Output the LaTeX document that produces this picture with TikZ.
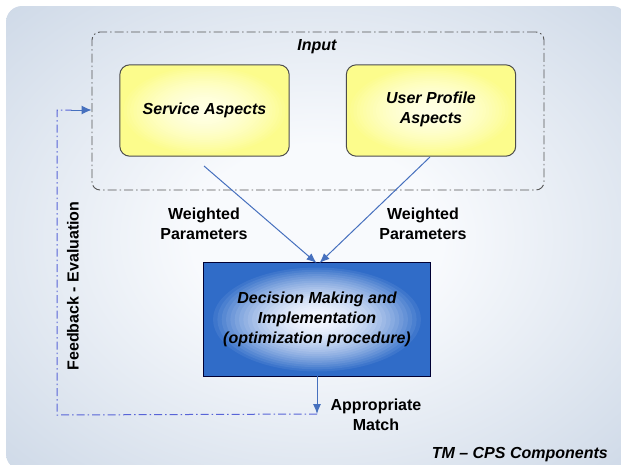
\documentclass[tikz,border=0pt]{standalone}
\usepackage{fontspec}
\setmainfont{Liberation Sans}
\usetikzlibrary{arrows.meta,calc}
\definecolor{bgout}{RGB}{196,209,226}
\definecolor{bgin}{RGB}{248,250,253}
\definecolor{yelout}{RGB}{252,252,140}
\definecolor{yelin}{RGB}{255,255,228}
\definecolor{blueout}{RGB}{48,108,200}
\definecolor{bluein}{RGB}{245,248,255}
\definecolor{arrowblue}{RGB}{70,112,190}
\definecolor{fbblue}{RGB}{88,100,215}
\definecolor{dashgray}{RGB}{85,85,85}
\pgfdeclareradialshading{bgshade}{\pgfpoint{0bp}{0bp}}{color(0bp)=(bgin); color(10bp)=(bgin); color(42bp)=(bgout); color(50bp)=(bgout)}
% #1 centre, #2 half width, #3 half height, #4 outer colour, #5 inner colour, #6 steps reaching full outer
\newcommand{\mygradfill}[6]{%
  \foreach \i in {30,...,1} {%
    \pgfmathsetmacro{\pct}{min(100,100*(\i/#6)^1.8)}%
    \fill[#4!\pct!#5] #1 ellipse [x radius={\i*#2/30*1.15}, y radius={\i*#3/30*1.15}];%
  }%
}
\tikzset{
  lbl/.style={font=\fontsize{16}{20}\selectfont\bfseries, align=center, inner sep=0pt},
  ilbl/.style={font=\fontsize{16}{20}\selectfont\bfseries\itshape, align=center, inner sep=0pt},
  aspect/.style={minimum width=169pt, minimum height=91pt, inner sep=0pt},
  aspectborder/.style={draw=black!70, line width=1pt, rounded corners=10pt},
  decision/.style={minimum width=226pt, minimum height=113pt, inner sep=0pt},
  decborder/.style={draw=black!80!blue, line width=1pt},
  conn/.style={draw=arrowblue, line width=1pt, -{Latex[length=10pt,width=8pt]}},
  fb/.style={draw=fbblue, line width=1pt, dash pattern=on 8pt off 3pt on 1.5pt off 3pt},
  inbox/.style={draw=dashgray, line width=0.9pt, rounded corners=8pt, dash pattern=on 9pt off 3pt on 1.5pt off 3pt}
}
\begin{document}
\begin{tikzpicture}[x=1pt,y=-1pt]
\useasboundingbox (0,0) rectangle (621,464);
\fill[white] (0,0) rectangle (621,464);
\path[shading=bgshade, rounded corners=16pt] (6,6) rectangle (628,470);
\clip (0,0) rectangle (621,464);
% input box
\node[inbox, minimum width=452pt, minimum height=158pt, inner sep=0pt] (input) at (318,111) {};
\node[ilbl] (inputlbl) at (317,47) {Input};
% aspect boxes
\node[aspect] (svc) at (204.5,110.5) {};
\node[aspect] (usr) at (431,110.5) {};
\begin{scope}
  \clip[rounded corners=10pt] (svc.south west) rectangle (svc.north east);
  \fill[yelout] (svc.south west) rectangle (svc.north east);
  \mygradfill{(svc.center)}{84.5}{45.5}{yelout}{yelin}{26}
\end{scope}
\begin{scope}
  \clip[rounded corners=10pt] (usr.south west) rectangle (usr.north east);
  \fill[yelout] (usr.south west) rectangle (usr.north east);
  \mygradfill{(usr.center)}{84.5}{45.5}{yelout}{yelin}{26}
\end{scope}
\draw[aspectborder] (svc.south west) rectangle (svc.north east);
\draw[aspectborder] (usr.south west) rectangle (usr.north east);
\node[ilbl] (svctxt) at (svc) {Service Aspects};
\node[ilbl] (usrtxt) at (431,109) {User Profile\\Aspects};
% decision box
\node[decision] (dec) at (317,319.5) {};
\begin{scope}
  \clip (dec.south west) rectangle (dec.north east);
  \fill[blueout] (dec.south west) rectangle (dec.north east);
  \mygradfill{(dec.center)}{113}{56.5}{blueout}{bluein}{25}
\end{scope}
\draw[decborder] (dec.south west) rectangle (dec.north east);
\node[ilbl] (dectxt) at (317,319) {Decision Making and\\Implementation\\(optimization procedure)};
% arrows
\coordinate (s1) at (204,166);
\coordinate (t1) at (316.5,263);
\coordinate (s2) at (430,157);
\coordinate (t2) at (319.5,263);
\draw[conn] (s1) -- (t1);
\draw[conn] (s2) -- (t2);
\node[lbl] (wp1) at (204,224) {Weighted\\Parameters};
\node[lbl] (wp2) at (423,224) {Weighted\\Parameters};
% output
\coordinate (outend) at (317,414);
\draw[conn] (dec.south -| outend) -- (outend);
\node[lbl] (match) at (376,414.5) {Appropriate\\Match};
% feedback
\coordinate (fb1) at (57,415);
\coordinate (fb2) at (57,110);
\draw[fb] (outend) -- (fb1) -- (fb2) -- ($(input.west |- fb2)+(-20,0)$);
\draw[draw=arrowblue, line width=1pt, -{Latex[length=10pt,width=9pt]}] ($(input.west |- fb2)+(-21,0)$) -- (input.west |- fb2);
\node[lbl, rotate=90] (fbtxt) at (73,286) {Feedback - Evaluation};
\node[ilbl, anchor=east] (tm) at (608,455) {TM – CPS Components};
\end{tikzpicture}
\end{document}
